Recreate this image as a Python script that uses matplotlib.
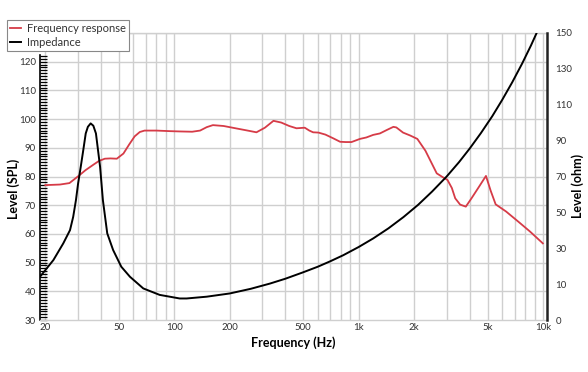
import numpy as np
import matplotlib
matplotlib.use("Agg")
import matplotlib.pyplot as plt
from matplotlib.ticker import FixedLocator, NullFormatter, FuncFormatter

plt.rcParams['font.family'] = ['Lato', 'DejaVu Sans']

# Frequency response (dB SPL)
fr_freq = [20, 24, 27, 30, 33, 36.4, 39, 42, 45, 48.8, 53, 57, 61, 65, 69, 80, 95, 107, 125,
           138, 150, 162, 185, 215, 250, 279, 310, 345, 380, 420, 460, 510, 540, 566, 605, 660,
           728, 793, 850, 914, 1016, 1100, 1199, 1303, 1420, 1542, 1600, 1740, 1900, 2080,
           2300, 2650, 2850, 3030, 3200, 3338, 3550, 3810, 4100, 4500, 4900, 5200, 5530,
           6300, 7360, 8500, 9970]
fr_db = [77.0, 77.2, 77.7, 80.0, 82.2, 84.1, 85.4, 86.2, 86.3, 86.2, 88.0, 91.2, 94.0, 95.5, 96.0,
         96.0, 95.8, 95.7, 95.6, 96.0, 97.2, 97.9, 97.6, 96.8, 96.0, 95.4, 97.0, 99.4, 98.8, 97.6,
         96.8, 97.0, 96.0, 95.4, 95.3, 94.6, 93.3, 92.1, 92.0, 92.0, 93.1, 93.6, 94.5, 95.0, 96.2,
         97.3, 97.1, 95.3, 94.3, 93.1, 89.0, 81.1, 79.8, 78.8, 76.0, 72.4, 70.2, 69.5, 72.5, 76.5,
         80.2, 75.0, 70.3, 67.8, 64.2, 60.8, 56.7]

# Impedance (ohm)
imp_freq = [18.7, 22.1, 25.0, 27.2, 28.3, 29.3, 30.1, 31.1, 32.1, 33.1, 34.0, 35.2, 36.4, 37.6,
            39.6, 41.0, 43.3, 46.6, 51.6, 57.5, 67.9, 83.3, 107, 116.6, 150, 200, 260, 330, 400,
            500, 600, 700, 824, 1000, 1200, 1450, 1750, 2100, 2500, 3000, 3500, 4000, 4600,
            5300, 6000, 6800, 7700, 8600, 9500, 10000]
imp_ohm = [14.1, 23.4, 32.7, 40.1, 47.5, 56.9, 66.2, 75.4, 84.7, 94.0, 97.7, 99.6, 98.3, 94.0,
           75.4, 56.9, 38.3, 29.0, 19.7, 14.1, 8.8, 7.0, 6.0, 6.0, 6.5, 7.4, 8.7, 10.3, 13.0,
           16.6, 19.7, 22.7, 26.1, 30.7, 35.5, 41.1, 47.4, 54.2, 61.6, 70.0, 78.0, 85.6, 94.2,
           103.6, 112.7, 122.5, 133.0, 143.1, 152.9, 158.1]

x_ticks = [20, 50, 100, 200, 500, 1000, 2000, 5000, 10000]
x_ticklabels = ['20', '50', '100', '200', '500', '1k', '2k', '5k', '10k']
spl_ticks = [30, 40, 50, 60, 70, 80, 90, 100, 110, 120]
ohm_ticks = [0, 10, 30, 50, 70, 90, 110, 130, 150]

RED = '#d63b47'
GRID = '#cfcfcf'
TXT = '#333333'

fig = plt.figure(figsize=(5.88, 3.72), dpi=100)
ax = fig.add_axes([40/588, 52/372, 507/588, 287/372])
ax.set_xscale('log')
ax.set_xlim(18.7, 10500)
ax.set_ylim(30, 130)

# grid lines
grid_x = [m * 10**e for e in (1, 2, 3) for m in range(1, 10)] + [10000]
grid_x = [g for g in grid_x if 18.7 < g < 10500]
ax.xaxis.set_major_locator(FixedLocator(x_ticks))
ax.xaxis.set_major_formatter(FuncFormatter(lambda v, p: x_ticklabels[x_ticks.index(v)] if v in x_ticks else ''))
ax.xaxis.set_minor_locator(FixedLocator(grid_x))
ax.xaxis.set_minor_formatter(NullFormatter())
ax.grid(True, axis='x', which='both', color=GRID, lw=1.0)
for yv in range(40, 131, 10):
    ax.axhline(yv, color=GRID, lw=1.0, zorder=0.5)

ax.yaxis.set_major_locator(FixedLocator(spl_ticks))
ax.yaxis.set_minor_locator(FixedLocator(list(range(30, 123))))
ax.tick_params(axis='y', which='both', direction='in', length=5, width=0.9, color='black',
               labelsize=7, labelcolor=TXT, pad=3)
ax.tick_params(axis='x', which='both', length=0, labelsize=7, labelcolor=TXT, pad=2)

for s in ('top', 'bottom'):
    ax.spines[s].set_color(GRID)
    ax.spines[s].set_linewidth(1.0)
ax.spines['right'].set_visible(False)
ax.spines['left'].set_color('black')
ax.spines['left'].set_linewidth(1.2)
ax.spines['left'].set_bounds(30, 122.5)

l1, = ax.plot(fr_freq, fr_db, color=RED, lw=1.3, label='Frequency response', zorder=3)

ax.set_xlabel('Frequency (Hz)', fontsize=9, fontweight='bold', labelpad=3)
ax.set_ylabel('Level (SPL)', fontsize=9, fontweight='bold')
ax.yaxis.set_label_coords(-0.0394, 0.456)

# right axis
def fwd(v):
    v = np.asarray(v, dtype=float)
    return np.where(v <= 10, v / 10.0, 1 + (v - 10) / 20.0)

def inv(u):
    u = np.asarray(u, dtype=float)
    return np.where(u <= 1, u * 10.0, 10 + (u - 1) * 20.0)

ax2 = ax.twinx()
ax2.set_yscale('function', functions=(fwd, inv))
ax2.set_ylim(0, 150)
ax2.yaxis.set_major_locator(FixedLocator(ohm_ticks))
ax2.yaxis.set_minor_locator(FixedLocator([]))
ax2.tick_params(axis='y', which='both', length=0, labelsize=7, labelcolor=TXT, pad=6)
for s in ('top', 'bottom', 'left'):
    ax2.spines[s].set_visible(False)
ax2.spines['right'].set_color('#222222')
ax2.spines['right'].set_linewidth(1.8)
l2, = ax2.plot(imp_freq, imp_ohm, color='black', lw=1.4, label='Impedance', zorder=3)
ax2.set_ylabel('Level (ohm)', fontsize=9, fontweight='bold')
ax2.yaxis.set_label_coords(1.047, 0.467)

leg = fig.legend(handles=[l1, l2], loc='upper left', bbox_to_anchor=(7/588, 1 - 20/372),
                 borderaxespad=0, fontsize=8, frameon=True, fancybox=False, edgecolor='#888888',
                 handlelength=1.0, handletextpad=0.5, borderpad=0.3, labelspacing=0.25,
                 framealpha=1.0)
leg.get_frame().set_linewidth(0.8)
for t in leg.get_texts():
    t.set_color(TXT)

fig.savefig('out.png', dpi=100)
